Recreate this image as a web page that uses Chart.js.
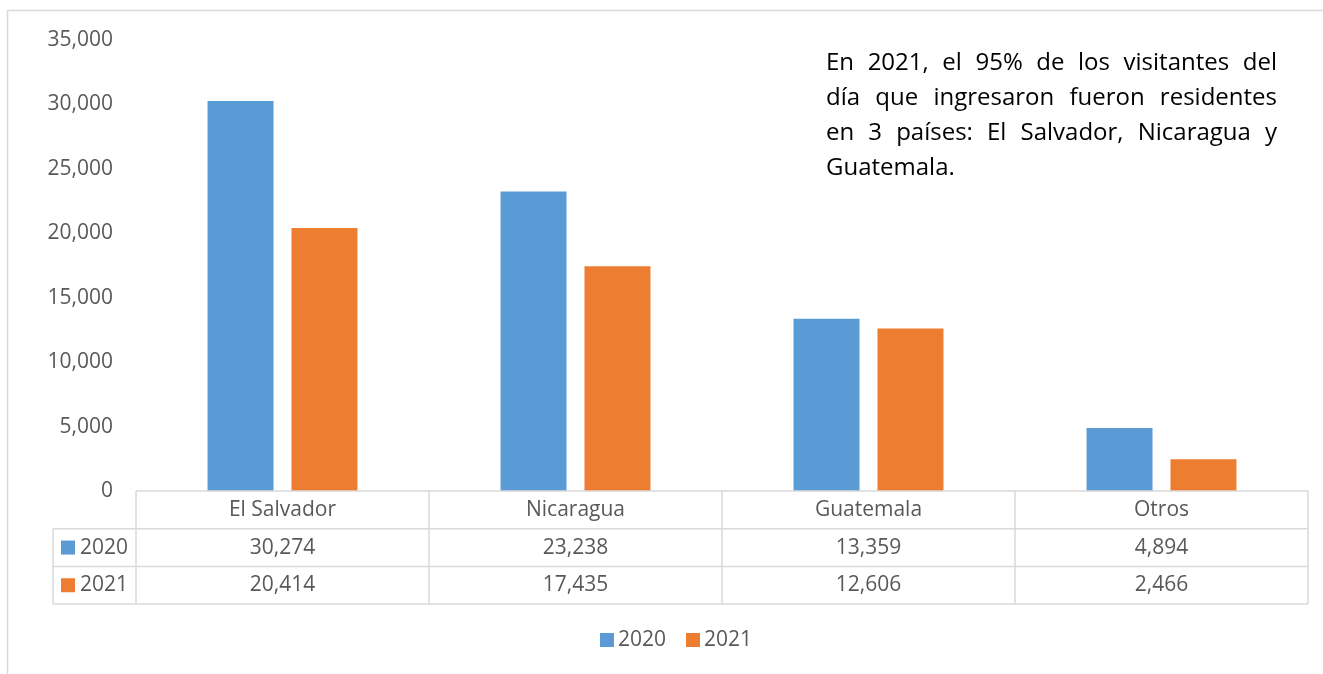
<!DOCTYPE html>
<html>
<head>
<meta charset="utf-8">
<script src="https://cdn.jsdelivr.net/npm/chart.js@4.4.1/dist/chart.umd.min.js"></script>
<style>
  body { margin: 0; background: #fff; }
  canvas { display: block; }
</style>
</head>
<body>
<canvas id="myChart" width="1323" height="674"></canvas>
<script>
const categories = ['El Salvador', 'Nicaragua', 'Guatemala', 'Otros'];
const seriesLabels = ['2020', '2021'];
const values2020 = [30274, 23238, 13359, 4894];
const values2021 = [20414, 17435, 12606, 2466];
const seriesColors = ['#5B9BD5', '#ED7D31'];
const yMax = 35000;
const yStep = 5000;
const noteLines = [
  'En 2021, el 95% de los visitantes del',
  'día que ingresaron fueron residentes',
  'en 3 países: El Salvador, Nicaragua y',
  'Guatemala.'
];

const FONT = "'Open Sans', sans-serif";
const GRAY = '#595959';
const LINE = '#D9D9D9';

function fmt(v) {
  return v.toLocaleString('en-US');
}

// outer frame, data table, legend and note text
const extrasPlugin = {
  id: 'extras',
  beforeDraw(chart) {
    const ctx = chart.ctx;
    ctx.save();
    ctx.strokeStyle = LINE;
    ctx.lineWidth = 1.5;
    ctx.beginPath();
    ctx.moveTo(7.5, chart.height);
    ctx.lineTo(7.5, 10.5);
    ctx.lineTo(chart.width, 10.5);
    ctx.stroke();
    ctx.restore();
  },
  afterDraw(chart) {
    const ctx = chart.ctx;
    const x = chart.scales.x;
    const area = chart.chartArea;
    const colW = x.width / categories.length;
    const rowH = 37.7;
    const top = area.bottom;
    const labelLeft = 53;
    const datasets = chart.data.datasets;
    const bottom = top + rowH * (datasets.length + 1);

    ctx.save();
    ctx.strokeStyle = LINE;
    ctx.lineWidth = 1.5;
    ctx.beginPath();
    ctx.moveTo(area.left, top);
    ctx.lineTo(area.right, top);
    for (let r = 1; r <= datasets.length; r++) {
      ctx.moveTo(labelLeft, top + rowH * r);
      ctx.lineTo(area.right, top + rowH * r);
    }
    ctx.moveTo(labelLeft, bottom);
    ctx.lineTo(area.right, bottom);
    ctx.moveTo(labelLeft, top + rowH);
    ctx.lineTo(labelLeft, bottom);
    for (let i = 0; i <= categories.length; i++) {
      const cx = area.left + colW * i;
      ctx.moveTo(cx, top);
      ctx.lineTo(cx, bottom);
    }
    ctx.stroke();

    ctx.font = '21px ' + FONT;
    ctx.fillStyle = GRAY;
    ctx.textAlign = 'center';
    ctx.textBaseline = 'middle';
    categories.forEach((c, i) => {
      const cx = x.getPixelForValue(i);
      ctx.fillText(c, cx, top + rowH / 2);
      datasets.forEach((ds, r) => {
        ctx.fillText(fmt(ds.data[i]), cx, top + rowH * (r + 1.5));
      });
    });

    // row labels with colour keys
    datasets.forEach((ds, r) => {
      const cy = top + rowH * (r + 1.5);
      ctx.fillStyle = ds.backgroundColor;
      ctx.fillRect(61, cy - 7, 14, 14);
      ctx.fillStyle = GRAY;
      ctx.textAlign = 'left';
      ctx.fillText(ds.label, 80, cy);
    });

    // legend
    const legY = 640;
    let total = 0;
    const widths = datasets.map(ds => ctx.measureText(ds.label).width);
    widths.forEach(w => { total += 18 + w; });
    total += 20 * (datasets.length - 1);
    let lx = 676 - total / 2;
    datasets.forEach((ds, i) => {
      ctx.fillStyle = ds.backgroundColor;
      ctx.fillRect(lx, legY - 7, 14, 14);
      ctx.fillStyle = GRAY;
      ctx.textAlign = 'left';
      ctx.fillText(ds.label, lx + 18, legY);
      lx += 18 + widths[i] + 20;
    });

    // note text, justified
    ctx.font = '24px ' + FONT;
    ctx.fillStyle = '#000';
    ctx.textBaseline = 'alphabetic';
    const noteLeft = 826, noteRight = 1277;
    noteLines.forEach((line, li) => {
      const by = 70 + li * 35;
      const words = line.split(' ');
      if (li === noteLines.length - 1 || words.length < 2) {
        ctx.fillText(line, noteLeft, by);
        return;
      }
      const ws = words.map(w => ctx.measureText(w).width);
      const sum = ws.reduce((a, b) => a + b, 0);
      const gap = (noteRight - noteLeft - sum) / (words.length - 1);
      let wx = noteLeft;
      words.forEach((w, k) => {
        ctx.fillText(w, wx, by);
        wx += ws[k] + gap;
      });
    });
    ctx.restore();
  }
};

new Chart(document.getElementById('myChart').getContext('2d'), {
  type: 'bar',
  data: {
    labels: categories,
    datasets: [
      { label: seriesLabels[0], data: values2020, backgroundColor: seriesColors[0] },
      { label: seriesLabels[1], data: values2021, backgroundColor: seriesColors[1] }
    ]
  },
  options: {
    responsive: false,
    animation: false,
    layout: { padding: { top: 40, right: 15, bottom: 0, left: 0 } },
    datasets: {
      bar: { barPercentage: 0.786, categoryPercentage: 0.573 }
    },
    plugins: {
      legend: { display: false },
      tooltip: { enabled: false }
    },
    scales: {
      x: {
        grid: { display: false, drawTicks: false },
        border: { display: false },
        ticks: { display: false },
        afterFit(scale) { scale.height = 183; }
      },
      y: {
        min: 0,
        max: yMax,
        grid: { display: false, drawTicks: false },
        border: { display: false },
        ticks: {
          stepSize: yStep,
          padding: 23,
          color: GRAY,
          font: { family: FONT, size: 21 },
          callback: v => fmt(v)
        },
        afterFit(scale) { scale.width = 136; }
      }
    }
  },
  plugins: [extrasPlugin]
});
</script>
</body>
</html>
